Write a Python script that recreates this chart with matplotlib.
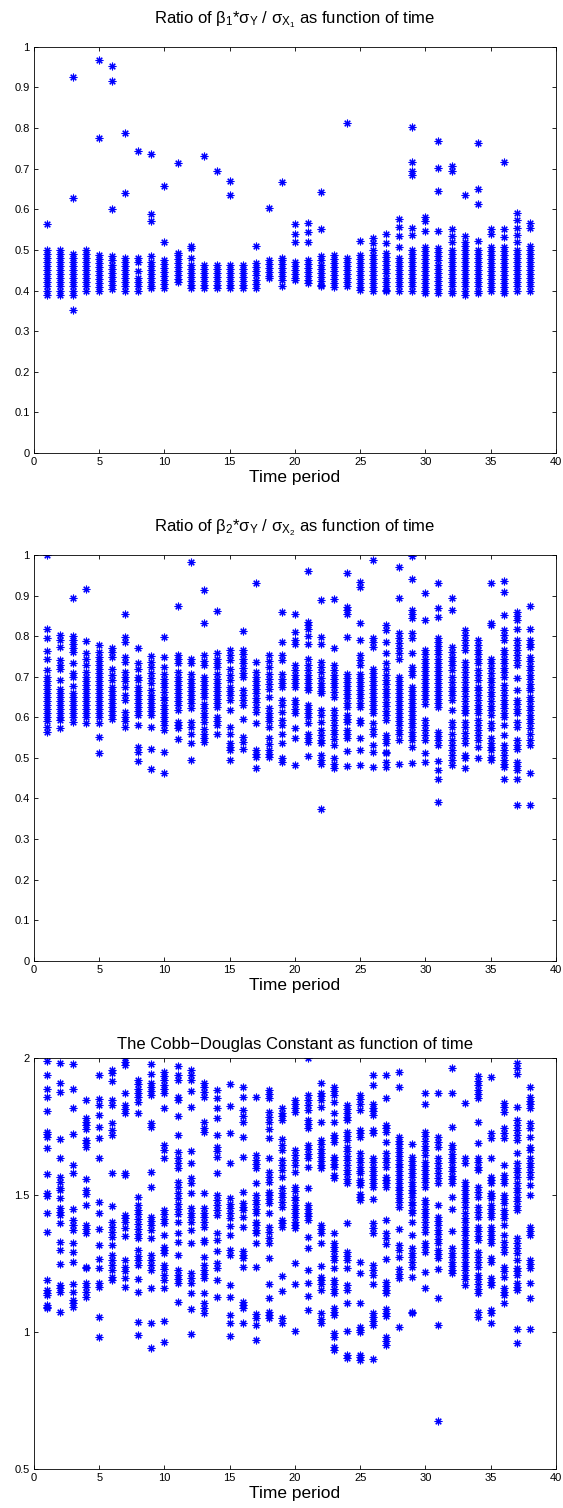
import numpy as np
import matplotlib
matplotlib.use('Agg')
import matplotlib.pyplot as plt

plt.rcParams['font.family'] = ['Liberation Sans', 'DejaVu Sans']
plt.rcParams['mathtext.fontset'] = 'custom'
plt.rcParams['mathtext.rm'] = 'Liberation Sans'
plt.rcParams['mathtext.it'] = 'Liberation Sans'

# time periods 1..38
periods = list(range(1, 39))

# ratio beta1*sigmaY/sigmaX1, one list per time period
p1 = [
    [0.564, 0.50, 0.49, 0.48, 0.47, 0.46, 0.45, 0.44, 0.43, 0.42, 0.41, 0.40, 0.39],
    [0.50, 0.49, 0.48, 0.47, 0.46, 0.45, 0.44, 0.43, 0.42, 0.41, 0.40, 0.39],
    [0.925, 0.627, 0.49, 0.48, 0.47, 0.46, 0.45, 0.44, 0.43, 0.42, 0.41, 0.40, 0.39, 0.352],
    [0.50, 0.49, 0.48, 0.47, 0.46, 0.45, 0.44, 0.43, 0.42, 0.41, 0.40],
    [0.967, 0.775, 0.488, 0.478, 0.468, 0.458, 0.448, 0.438, 0.428, 0.418, 0.408, 0.398],
    [0.953, 0.915, 0.601, 0.484, 0.474, 0.464, 0.454, 0.444, 0.434, 0.424, 0.414, 0.404],
    [0.787, 0.639, 0.48, 0.47, 0.46, 0.45, 0.44, 0.43, 0.42, 0.41, 0.40],
    [0.744, 0.48, 0.47, 0.447, 0.43, 0.42, 0.41, 0.40],
    [0.735, 0.589, 0.570, 0.484, 0.471, 0.46, 0.45, 0.44, 0.43, 0.42, 0.41, 0.405],
    [0.656, 0.519, 0.475, 0.465, 0.455, 0.445, 0.435, 0.425, 0.415, 0.405],
    [0.715, 0.493, 0.488, 0.478, 0.468, 0.458, 0.448, 0.438, 0.428, 0.42],
    [0.51, 0.505, 0.48, 0.463, 0.453, 0.443, 0.433, 0.423, 0.413, 0.406],
    [0.73, 0.463, 0.453, 0.443, 0.433, 0.423, 0.413, 0.406],
    [0.694, 0.463, 0.453, 0.443, 0.433, 0.423, 0.413, 0.406],
    [0.669, 0.634, 0.463, 0.453, 0.443, 0.433, 0.423, 0.413, 0.406],
    [0.463, 0.453, 0.443, 0.433, 0.423, 0.413, 0.406],
    [0.51, 0.467, 0.457, 0.447, 0.437, 0.427, 0.417, 0.406],
    [0.602, 0.475, 0.465, 0.455, 0.445, 0.435, 0.43],
    [0.667, 0.48, 0.475, 0.465, 0.455, 0.445, 0.435, 0.426, 0.412],
    [0.564, 0.539, 0.52, 0.471, 0.461, 0.451, 0.441, 0.431, 0.426],
    [0.566, 0.543, 0.52, 0.475, 0.465, 0.455, 0.445, 0.435, 0.425, 0.418],
    [0.642, 0.551, 0.484, 0.474, 0.464, 0.454, 0.444, 0.434, 0.424, 0.414, 0.41],
    [0.488, 0.478, 0.468, 0.458, 0.448, 0.438, 0.428, 0.418, 0.408],
    [0.812, 0.48, 0.47, 0.46, 0.45, 0.44, 0.43, 0.42, 0.41],
    [0.523, 0.488, 0.478, 0.468, 0.458, 0.448, 0.438, 0.428, 0.418, 0.408, 0.402],
    [0.529, 0.516, 0.50, 0.488, 0.478, 0.468, 0.458, 0.448, 0.438, 0.428, 0.418, 0.408, 0.398],
    [0.540, 0.516, 0.492, 0.482, 0.472, 0.462, 0.452, 0.442, 0.432, 0.422, 0.412, 0.402, 0.398],
    [0.576, 0.557, 0.534, 0.506, 0.48, 0.47, 0.46, 0.45, 0.44, 0.43, 0.42, 0.41, 0.398],
    [0.803, 0.717, 0.693, 0.684, 0.553, 0.537, 0.50, 0.49, 0.48, 0.47, 0.46, 0.45, 0.44, 0.43, 0.42, 0.41, 0.398],
    [0.582, 0.571, 0.546, 0.508, 0.498, 0.488, 0.478, 0.468, 0.458, 0.448, 0.438, 0.428, 0.418, 0.408, 0.398, 0.393],
    [0.769, 0.701, 0.646, 0.546, 0.504, 0.494, 0.484, 0.474, 0.464, 0.454, 0.444, 0.434, 0.424, 0.414, 0.404, 0.393],
    [0.707, 0.695, 0.551, 0.533, 0.52, 0.50, 0.49, 0.48, 0.47, 0.46, 0.45, 0.44, 0.43, 0.42, 0.41, 0.40, 0.393],
    [0.635, 0.533, 0.52, 0.51, 0.50, 0.49, 0.48, 0.47, 0.46, 0.45, 0.44, 0.43, 0.42, 0.41, 0.40, 0.389],
    [0.764, 0.65, 0.612, 0.522, 0.50, 0.49, 0.48, 0.47, 0.46, 0.45, 0.44, 0.43, 0.42, 0.41, 0.40, 0.393],
    [0.551, 0.539, 0.508, 0.498, 0.488, 0.478, 0.468, 0.458, 0.448, 0.438, 0.428, 0.418, 0.408, 0.398],
    [0.717, 0.551, 0.531, 0.508, 0.498, 0.488, 0.478, 0.468, 0.458, 0.448, 0.438, 0.428, 0.418, 0.408, 0.398, 0.393],
    [0.592, 0.574, 0.553, 0.537, 0.52, 0.50, 0.49, 0.48, 0.47, 0.46, 0.45, 0.44, 0.43, 0.42, 0.41, 0.398],
    [0.566, 0.553, 0.51, 0.50, 0.49, 0.48, 0.47, 0.46, 0.45, 0.44, 0.43, 0.42, 0.41, 0.398],
]

# ratio beta2*sigmaY/sigmaX2
p2 = [
    [1.0, 0.817, 0.795, 0.763, 0.745, 0.717, 0.70, 0.69, 0.68, 0.67, 0.66, 0.65, 0.64, 0.63, 0.62, 0.61, 0.60, 0.59, 0.577, 0.565],
    [0.803, 0.79, 0.774, 0.741, 0.73, 0.72, 0.692, 0.671, 0.66, 0.65, 0.64, 0.63, 0.62, 0.61, 0.60, 0.593, 0.574],
    [0.895, 0.80, 0.79, 0.78, 0.77, 0.762, 0.733, 0.71, 0.70, 0.678, 0.659, 0.65, 0.64, 0.63, 0.62, 0.61, 0.60, 0.589],
    [0.916, 0.788, 0.758, 0.745, 0.73, 0.712, 0.70, 0.69, 0.68, 0.67, 0.66, 0.65, 0.64, 0.63, 0.62, 0.61, 0.60, 0.585],
    [0.778, 0.762, 0.75, 0.74, 0.73, 0.72, 0.71, 0.70, 0.69, 0.68, 0.67, 0.66, 0.65, 0.64, 0.63, 0.62, 0.61, 0.60, 0.585, 0.552, 0.511],
    [0.77, 0.76, 0.749, 0.72, 0.705, 0.692, 0.675, 0.665, 0.655, 0.645, 0.635, 0.625, 0.615, 0.605, 0.597],
    [0.855, 0.797, 0.786, 0.749, 0.737, 0.712, 0.70, 0.69, 0.675, 0.655, 0.643, 0.614, 0.60, 0.59, 0.577],
    [0.772, 0.733, 0.72, 0.70, 0.692, 0.675, 0.665, 0.655, 0.645, 0.635, 0.625, 0.615, 0.606, 0.581, 0.528, 0.515, 0.493],
    [0.752, 0.737, 0.725, 0.71, 0.697, 0.684, 0.667, 0.655, 0.645, 0.635, 0.625, 0.615, 0.606, 0.575, 0.521, 0.472],
    [0.799, 0.749, 0.725, 0.708, 0.695, 0.685, 0.675, 0.663, 0.651, 0.643, 0.63, 0.62, 0.61, 0.60, 0.59, 0.58, 0.569, 0.515, 0.462],
    [0.875, 0.753, 0.743, 0.733, 0.712, 0.70, 0.69, 0.68, 0.67, 0.66, 0.65, 0.64, 0.63, 0.618, 0.589, 0.58, 0.573, 0.546],
    [0.984, 0.745, 0.733, 0.708, 0.695, 0.685, 0.675, 0.665, 0.655, 0.645, 0.635, 0.622, 0.589, 0.575, 0.56, 0.537, 0.495],
    [0.914, 0.833, 0.753, 0.74, 0.729, 0.70, 0.69, 0.68, 0.67, 0.66, 0.65, 0.634, 0.622, 0.61, 0.60, 0.589, 0.571, 0.56, 0.55, 0.54],
    [0.862, 0.758, 0.745, 0.735, 0.725, 0.708, 0.695, 0.685, 0.675, 0.665, 0.655, 0.645, 0.635, 0.626, 0.601, 0.59, 0.581, 0.559],
    [0.766, 0.753, 0.741, 0.72, 0.705, 0.692, 0.675, 0.665, 0.655, 0.643, 0.618, 0.577, 0.56, 0.536, 0.528, 0.519, 0.496],
    [0.813, 0.766, 0.755, 0.745, 0.733, 0.722, 0.71, 0.70, 0.667, 0.655, 0.643, 0.63, 0.597, 0.552, 0.54, 0.521],
    [0.932, 0.737, 0.712, 0.70, 0.69, 0.68, 0.671, 0.659, 0.648, 0.637, 0.625, 0.614, 0.585, 0.519, 0.51, 0.503, 0.474],
    [0.753, 0.74, 0.725, 0.708, 0.695, 0.683, 0.671, 0.651, 0.622, 0.61, 0.60, 0.59, 0.577, 0.548, 0.535, 0.52, 0.51, 0.503],
    [0.86, 0.785, 0.753, 0.741, 0.708, 0.695, 0.685, 0.675, 0.643, 0.63, 0.614, 0.593, 0.581, 0.558, 0.538, 0.499, 0.49],
    [0.855, 0.811, 0.79, 0.782, 0.729, 0.717, 0.705, 0.695, 0.685, 0.675, 0.643, 0.632, 0.62, 0.61, 0.574, 0.548, 0.482],
    [0.961, 0.836, 0.827, 0.819, 0.801, 0.78, 0.745, 0.729, 0.717, 0.705, 0.695, 0.685, 0.675, 0.667, 0.63, 0.62, 0.61, 0.60, 0.585, 0.56, 0.55, 0.54, 0.505],
    [0.889, 0.799, 0.78, 0.737, 0.725, 0.712, 0.696, 0.685, 0.675, 0.665, 0.659, 0.618, 0.605, 0.589, 0.569, 0.557, 0.545, 0.536, 0.507, 0.496, 0.486, 0.373],
    [0.892, 0.772, 0.729, 0.717, 0.705, 0.695, 0.685, 0.675, 0.663, 0.651, 0.618, 0.605, 0.593, 0.58, 0.569, 0.56, 0.546, 0.532, 0.499, 0.486, 0.474],
    [0.957, 0.873, 0.865, 0.856, 0.799, 0.708, 0.697, 0.687, 0.677, 0.667, 0.657, 0.647, 0.636, 0.626, 0.606, 0.597, 0.589, 0.569, 0.558, 0.548, 0.517, 0.481],
    [0.934, 0.922, 0.833, 0.79, 0.753, 0.741, 0.729, 0.708, 0.697, 0.687, 0.677, 0.667, 0.657, 0.647, 0.636, 0.626, 0.593, 0.585, 0.548, 0.519, 0.482],
    [0.988, 0.796, 0.785, 0.774, 0.72, 0.71, 0.70, 0.69, 0.68, 0.67, 0.66, 0.65, 0.64, 0.63, 0.62, 0.61, 0.585, 0.572, 0.56, 0.532, 0.515, 0.478],
    [0.827, 0.815, 0.786, 0.758, 0.733, 0.72, 0.704, 0.693, 0.682, 0.671, 0.66, 0.649, 0.638, 0.627, 0.616, 0.605, 0.593, 0.556, 0.546, 0.536, 0.515, 0.511, 0.49, 0.478],
    [0.971, 0.893, 0.807, 0.795, 0.783, 0.77, 0.758, 0.745, 0.70, 0.69, 0.68, 0.67, 0.66, 0.65, 0.64, 0.63, 0.62, 0.61, 0.60, 0.59, 0.58, 0.57, 0.56, 0.544, 0.486],
    [0.998, 0.942, 0.864, 0.854, 0.844, 0.809, 0.795, 0.758, 0.725, 0.715, 0.704, 0.675, 0.665, 0.655, 0.645, 0.635, 0.625, 0.615, 0.605, 0.595, 0.585, 0.575, 0.565, 0.555, 0.544, 0.528, 0.488],
    [0.907, 0.84, 0.766, 0.755, 0.745, 0.735, 0.725, 0.715, 0.705, 0.695, 0.685, 0.675, 0.665, 0.655, 0.645, 0.634, 0.593, 0.581, 0.569, 0.556, 0.544, 0.511, 0.491],
    [0.93, 0.869, 0.848, 0.795, 0.785, 0.775, 0.765, 0.755, 0.745, 0.735, 0.725, 0.715, 0.705, 0.695, 0.685, 0.675, 0.665, 0.655, 0.645, 0.635, 0.626, 0.565, 0.554, 0.543, 0.532, 0.493, 0.47, 0.449, 0.392],
    [0.893, 0.864, 0.774, 0.762, 0.75, 0.74, 0.728, 0.717, 0.70, 0.688, 0.676, 0.665, 0.654, 0.643, 0.618, 0.589, 0.575, 0.56, 0.544, 0.532, 0.52, 0.507, 0.494, 0.482],
    [0.815, 0.803, 0.79, 0.778, 0.766, 0.737, 0.725, 0.713, 0.70, 0.688, 0.676, 0.664, 0.652, 0.64, 0.628, 0.618, 0.61, 0.589, 0.575, 0.562, 0.549, 0.536, 0.507, 0.499, 0.474],
    [0.79, 0.778, 0.766, 0.755, 0.744, 0.733, 0.717, 0.705, 0.693, 0.675, 0.667, 0.655, 0.643, 0.631, 0.62, 0.61, 0.593, 0.581, 0.569, 0.556, 0.544, 0.528, 0.499],
    [0.93, 0.833, 0.827, 0.745, 0.734, 0.722, 0.71, 0.698, 0.688, 0.675, 0.663, 0.652, 0.641, 0.629, 0.617, 0.606, 0.585, 0.573, 0.548, 0.537, 0.527, 0.519, 0.503, 0.495],
    [0.936, 0.908, 0.852, 0.815, 0.803, 0.79, 0.766, 0.755, 0.744, 0.733, 0.722, 0.711, 0.70, 0.68, 0.668, 0.656, 0.644, 0.633, 0.622, 0.611, 0.601, 0.581, 0.556, 0.532, 0.52, 0.508, 0.495, 0.484, 0.478, 0.447],
    [0.86, 0.85, 0.84, 0.819, 0.79, 0.778, 0.766, 0.753, 0.741, 0.729, 0.696, 0.667, 0.643, 0.632, 0.621, 0.61, 0.589, 0.577, 0.544, 0.533, 0.523, 0.491, 0.48, 0.47, 0.447, 0.383],
    [0.874, 0.818, 0.79, 0.782, 0.774, 0.749, 0.738, 0.727, 0.716, 0.705, 0.694, 0.683, 0.672, 0.667, 0.651, 0.64, 0.629, 0.618, 0.607, 0.596, 0.585, 0.574, 0.56, 0.544, 0.532, 0.464, 0.385],
]

# Cobb-Douglas constant
p3 = [
    [1.991, 1.939, 1.887, 1.86, 1.809, 1.732, 1.723, 1.714, 1.672, 1.578, 1.507, 1.498, 1.434, 1.367, 1.191, 1.154, 1.145, 1.136, 1.10, 1.094, 1.088],
    [1.982, 1.909, 1.878, 1.706, 1.635, 1.568, 1.55, 1.526, 1.519, 1.489, 1.453, 1.44, 1.428, 1.398, 1.331, 1.30, 1.249, 1.173, 1.16, 1.148, 1.075],
    [1.979, 1.887, 1.818, 1.724, 1.611, 1.58, 1.449, 1.41, 1.39, 1.373, 1.325, 1.294, 1.257, 1.175, 1.148, 1.118, 1.106, 1.094],
    [1.848, 1.781, 1.768, 1.755, 1.741, 1.702, 1.69, 1.678, 1.558, 1.519, 1.505, 1.465, 1.392, 1.376, 1.361, 1.24, 1.234, 1.181, 1.165, 1.148, 1.13],
    [1.939, 1.85, 1.83, 1.793, 1.748, 1.709, 1.635, 1.474, 1.437, 1.376, 1.319, 1.268, 1.234, 1.181, 1.167, 1.055, 0.984],
    [1.957, 1.945, 1.917, 1.848, 1.83, 1.763, 1.738, 1.72, 1.58, 1.461, 1.404, 1.385, 1.367, 1.349, 1.319, 1.282, 1.265, 1.246, 1.228, 1.20, 1.191],
    [2.0, 1.988, 1.976, 1.872, 1.83, 1.815, 1.799, 1.58, 1.574, 1.428, 1.416, 1.404, 1.382, 1.352, 1.264, 1.24, 1.222, 1.197, 1.164],
    [1.921, 1.905, 1.889, 1.873, 1.857, 1.842, 1.799, 1.495, 1.465, 1.448, 1.43, 1.413, 1.395, 1.378, 1.36, 1.343, 1.30, 1.28, 1.265, 1.246, 1.195, 1.146, 1.036, 0.99],
    [1.979, 1.943, 1.909, 1.894, 1.88, 1.866, 1.763, 1.748, 1.586, 1.532, 1.422, 1.405, 1.39, 1.373, 1.343, 1.282, 1.264, 1.246, 1.228, 1.161, 1.033, 0.942],
    [1.951, 1.935, 1.92, 1.904, 1.888, 1.872, 1.818, 1.684, 1.665, 1.635, 1.446, 1.43, 1.414, 1.398, 1.355, 1.313, 1.30, 1.288, 1.246, 1.23, 1.21, 1.191, 1.161, 1.041, 0.964],
    [1.972, 1.939, 1.921, 1.86, 1.848, 1.79, 1.721, 1.659, 1.635, 1.617, 1.599, 1.55, 1.53, 1.51, 1.49, 1.47, 1.45, 1.43, 1.404, 1.364, 1.331, 1.282, 1.228, 1.21, 1.195, 1.179, 1.112],
    [1.957, 1.94, 1.921, 1.881, 1.824, 1.662, 1.617, 1.562, 1.544, 1.51, 1.453, 1.437, 1.42, 1.404, 1.373, 1.327, 1.215, 1.197, 1.179, 1.142, 1.084, 0.994],
    [1.911, 1.894, 1.877, 1.86, 1.769, 1.745, 1.732, 1.507, 1.453, 1.435, 1.42, 1.403, 1.386, 1.337, 1.331, 1.276, 1.246, 1.229, 1.213, 1.197, 1.145, 1.106, 1.088, 1.069],
    [1.884, 1.854, 1.818, 1.781, 1.72, 1.678, 1.66, 1.641, 1.58, 1.501, 1.483, 1.465, 1.447, 1.428, 1.361, 1.337, 1.298, 1.252, 1.234, 1.191, 1.127],
    [1.905, 1.826, 1.726, 1.619, 1.489, 1.47, 1.452, 1.434, 1.416, 1.388, 1.355, 1.30, 1.282, 1.173, 1.128, 1.063, 1.033, 0.987],
    [1.894, 1.86, 1.811, 1.79, 1.769, 1.712, 1.639, 1.511, 1.471, 1.458, 1.445, 1.422, 1.383, 1.297, 1.283, 1.27, 1.237, 1.112, 1.10, 1.088, 1.035],
    [1.86, 1.647, 1.63, 1.615, 1.599, 1.546, 1.501, 1.484, 1.467, 1.45, 1.434, 1.404, 1.39, 1.375, 1.361, 1.327, 1.237, 1.067, 1.051, 1.027, 0.972],
    [1.884, 1.869, 1.854, 1.805, 1.787, 1.769, 1.741, 1.708, 1.635, 1.586, 1.568, 1.55, 1.513, 1.5, 1.485, 1.471, 1.434, 1.386, 1.367, 1.345, 1.325, 1.27, 1.176, 1.124, 1.075, 1.063, 1.051],
    [1.818, 1.80, 1.79, 1.775, 1.706, 1.684, 1.665, 1.629, 1.61, 1.592, 1.568, 1.526, 1.51, 1.493, 1.476, 1.459, 1.41, 1.398, 1.386, 1.206, 1.151, 1.051, 1.033],
    [1.848, 1.834, 1.82, 1.805, 1.665, 1.647, 1.629, 1.611, 1.586, 1.532, 1.515, 1.495, 1.483, 1.465, 1.45, 1.436, 1.422, 1.404, 1.39, 1.38, 1.254, 1.176, 1.006],
    [2.0, 1.866, 1.848, 1.83, 1.811, 1.775, 1.76, 1.745, 1.684, 1.668, 1.651, 1.635, 1.605, 1.528, 1.465, 1.45, 1.437, 1.423, 1.41, 1.349, 1.307, 1.228, 1.181, 1.132, 1.082],
    [1.911, 1.875, 1.862, 1.848, 1.824, 1.769, 1.702, 1.686, 1.67, 1.655, 1.64, 1.625, 1.61, 1.599, 1.392, 1.376, 1.361, 1.327, 1.243, 1.203, 1.19, 1.175, 1.155, 1.069, 1.05, 1.033],
    [1.894, 1.88, 1.866, 1.842, 1.802, 1.769, 1.72, 1.708, 1.696, 1.641, 1.628, 1.616, 1.605, 1.574, 1.562, 1.361, 1.325, 1.31, 1.295, 1.28, 1.264, 1.234, 1.191, 1.175, 1.158, 1.142, 1.088, 1.075, 1.063, 0.996, 0.984, 0.948, 0.936],
    [1.83, 1.815, 1.80, 1.787, 1.775, 1.732, 1.717, 1.702, 1.678, 1.661, 1.644, 1.627, 1.61, 1.594, 1.577, 1.56, 1.544, 1.40, 1.294, 1.279, 1.264, 1.236, 1.173, 1.155, 1.108, 1.005, 0.917, 0.905],
    [1.866, 1.85, 1.835, 1.811, 1.738, 1.726, 1.714, 1.653, 1.637, 1.62, 1.604, 1.588, 1.58, 1.556, 1.547, 1.538, 1.505, 1.494, 1.483, 1.258, 1.218, 1.108, 1.018, 1.009, 1.0, 0.917, 0.908, 0.899],
    [1.939, 1.903, 1.833, 1.82, 1.806, 1.793, 1.738, 1.726, 1.635, 1.62, 1.605, 1.59, 1.575, 1.56, 1.546, 1.532, 1.485, 1.40, 1.382, 1.364, 1.246, 1.228, 1.21, 1.175, 1.069, 1.055, 1.041, 1.027, 0.903],
    [1.939, 1.854, 1.757, 1.745, 1.732, 1.696, 1.653, 1.637, 1.621, 1.605, 1.568, 1.556, 1.544, 1.532, 1.408, 1.364, 1.343, 1.322, 1.268, 1.185, 1.17, 1.156, 1.142, 1.084, 1.072, 1.06, 0.984, 0.968, 0.952],
    [1.951, 1.896, 1.714, 1.70, 1.686, 1.672, 1.658, 1.644, 1.63, 1.616, 1.602, 1.588, 1.574, 1.56, 1.546, 1.532, 1.518, 1.504, 1.49, 1.475, 1.459, 1.376, 1.319, 1.30, 1.276, 1.23, 1.214, 1.197, 1.018],
    [1.686, 1.641, 1.625, 1.61, 1.595, 1.58, 1.565, 1.55, 1.535, 1.52, 1.507, 1.495, 1.477, 1.463, 1.448, 1.434, 1.404, 1.355, 1.307, 1.29, 1.273, 1.256, 1.24, 1.201, 1.075, 1.069],
    [1.872, 1.833, 1.732, 1.715, 1.698, 1.681, 1.664, 1.647, 1.623, 1.608, 1.593, 1.578, 1.563, 1.547, 1.532, 1.483, 1.467, 1.451, 1.435, 1.419, 1.403, 1.385, 1.367, 1.325, 1.31, 1.294, 1.221, 1.161],
    [1.872, 1.714, 1.696, 1.678, 1.635, 1.617, 1.599, 1.58, 1.562, 1.544, 1.465, 1.422, 1.406, 1.39, 1.374, 1.358, 1.341, 1.325, 1.30, 1.285, 1.27, 1.231, 1.124, 1.027, 0.676],
    [1.964, 1.875, 1.748, 1.684, 1.668, 1.652, 1.636, 1.62, 1.604, 1.588, 1.572, 1.558, 1.544, 1.493, 1.449, 1.37, 1.307, 1.29, 1.274, 1.258, 1.242, 1.228, 1.215],
    [1.838, 1.635, 1.617, 1.55, 1.535, 1.52, 1.505, 1.49, 1.475, 1.459, 1.434, 1.418, 1.402, 1.386, 1.37, 1.354, 1.338, 1.322, 1.306, 1.29, 1.274, 1.258, 1.242, 1.226, 1.21, 1.194, 1.173],
    [1.935, 1.918, 1.901, 1.884, 1.868, 1.854, 1.769, 1.69, 1.635, 1.62, 1.605, 1.592, 1.532, 1.513, 1.495, 1.459, 1.44, 1.422, 1.386, 1.37, 1.353, 1.337, 1.294, 1.276, 1.258, 1.24, 1.21, 1.193, 1.176, 1.159, 1.142, 1.075, 1.057],
    [1.931, 1.726, 1.708, 1.635, 1.568, 1.556, 1.544, 1.507, 1.498, 1.489, 1.465, 1.45, 1.436, 1.422, 1.386, 1.37, 1.355, 1.34, 1.325, 1.27, 1.258, 1.197, 1.185, 1.173, 1.082, 1.069, 1.035],
    [1.838, 1.822, 1.805, 1.745, 1.727, 1.708, 1.611, 1.574, 1.559, 1.544, 1.501, 1.486, 1.471, 1.446, 1.431, 1.416, 1.392, 1.355, 1.331, 1.313, 1.294, 1.24, 1.222, 1.203, 1.161, 1.148, 1.136, 1.106],
    [1.984, 1.964, 1.943, 1.824, 1.775, 1.757, 1.739, 1.72, 1.702, 1.653, 1.617, 1.60, 1.584, 1.568, 1.544, 1.528, 1.512, 1.495, 1.479, 1.462, 1.446, 1.343, 1.325, 1.307, 1.288, 1.264, 1.234, 1.222, 1.209, 1.179, 1.167, 1.155, 1.012, 0.962],
    [1.894, 1.86, 1.846, 1.832, 1.818, 1.763, 1.745, 1.714, 1.678, 1.665, 1.635, 1.619, 1.602, 1.585, 1.568, 1.538, 1.501, 1.383, 1.369, 1.355, 1.264, 1.249, 1.234, 1.179, 1.124, 1.012],
]

titles = [
    r'Ratio of $\beta_1$*$\sigma_Y$ / $\sigma_{X_1}$ as function of time',
    r'Ratio of $\beta_2$*$\sigma_Y$ / $\sigma_{X_2}$ as function of time',
    'The Cobb\u2212Douglas Constant as function of time',
]
xticks = [0, 5, 10, 15, 20, 25, 30, 35, 40]
yticks_12 = [0, 0.1, 0.2, 0.3, 0.4, 0.5, 0.6, 0.7, 0.8, 0.9, 1]
ylabels_12 = ['0', '0.1', '0.2', '0.3', '0.4', '0.5', '0.6', '0.7', '0.8', '0.9', '1']
yticks_3 = [0.5, 1, 1.5, 2]
ylabels_3 = ['0.5', '1', '1.5', '2']

fig = plt.figure(figsize=(5.63, 15.08), dpi=100)
boxes = [
    [0.0604, 0.6996, 0.927, 0.2694],
    [0.0604, 0.3629, 0.927, 0.2690],
    [0.0604, 0.0257, 0.927, 0.2725],
]
datasets = [p1, p2, p3]
ylims = [(0, 1), (0, 1), (0.5, 2)]
yts = [(yticks_12, ylabels_12), (yticks_12, ylabels_12), (yticks_3, ylabels_3)]
title_pads = [17, 17, 7]

for box, data, title, ylim, (yt, yl), tpad in zip(boxes, datasets, titles, ylims, yts, title_pads):
    ax = fig.add_axes(box)
    x = np.repeat(periods, [len(v) for v in data])
    y = np.concatenate([np.array(v) for v in data])
    ax.plot(x, y, linestyle='none', marker=(8, 2, 0), markersize=5.5,
            markeredgewidth=0.8, color='#0000ff')
    ax.set_xlim(0, 40)
    ax.set_ylim(*ylim)
    ax.set_xticks(xticks)
    ax.set_xticklabels([str(t) for t in xticks])
    ax.set_yticks(yt)
    ax.set_yticklabels(yl)
    ax.tick_params(direction='in', top=True, right=True, labelsize=8,
                   length=3, width=0.6, pad=3)
    for s in ax.spines.values():
        s.set_linewidth(0.6)
    ax.set_title(title, fontsize=12, pad=tpad)
    ax.set_xlabel('Time period', fontsize=12.5, labelpad=2)

fig.savefig('out.png', dpi=100)
